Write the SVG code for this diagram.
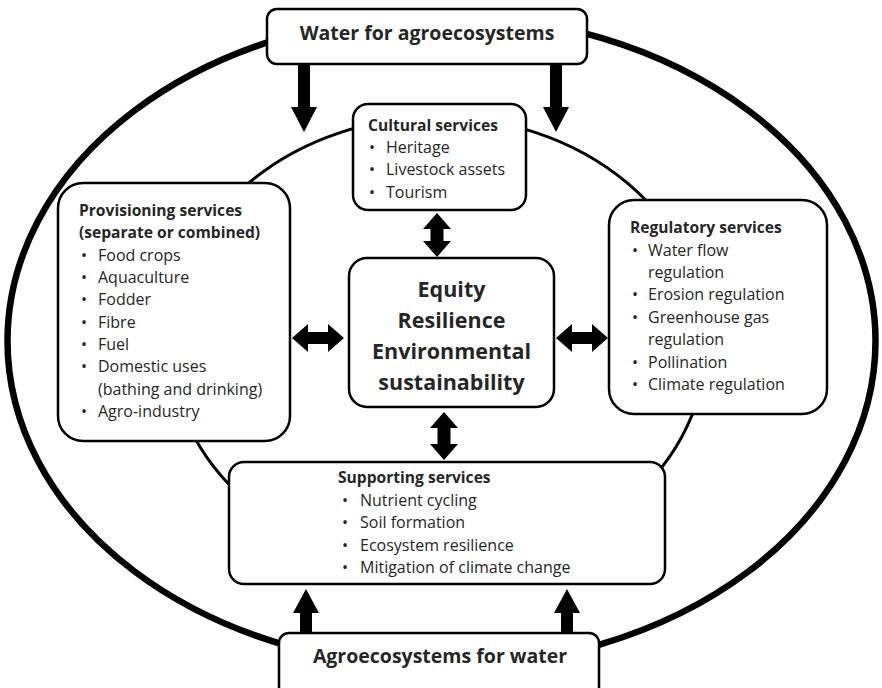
<svg xmlns="http://www.w3.org/2000/svg" width="882" height="688" viewBox="0 0 882 688">
<style>
.box{fill:#fff;stroke:#000;stroke-width:2.5}
.t{font-family:"Open Sans","Liberation Sans",sans-serif;font-size:16px;fill:#262626}
.h{font-family:"Open Sans","Liberation Sans",sans-serif;font-size:15.6px;font-weight:bold;fill:#262626}
.big{font-family:"Open Sans","Liberation Sans",sans-serif;font-size:19.5px;font-weight:bold;fill:#262626;text-anchor:middle}
.ctr{font-family:"Open Sans","Liberation Sans",sans-serif;font-size:21.5px;font-weight:bold;fill:#262626;text-anchor:middle}
.arr{fill:#000}
</style>
<rect width="882" height="688" fill="#fff"/>
<g id="outer-ring"><ellipse cx="441.5" cy="341" rx="434" ry="326" fill="none" stroke="#000" stroke-width="6.5"/></g>
<g id="inner-ring"><ellipse cx="438" cy="343" rx="268" ry="226" fill="none" stroke="#000" stroke-width="3"/></g>
<g id="connectors">
<polygon class="arr" points="298,64 310,64 310,107 317,107 304,132 291,107 298,107"/>
<polygon class="arr" points="550,64 562,64 562,107 569,107 556,132 543,107 550,107"/>
<polygon class="arr" points="300,633 312,633 312,613 319,613 306,589 293,613 300,613"/>
<polygon class="arr" points="561,633 573,633 573,613 580,613 567,589 554,613 561,613"/>
<polygon class="arr" points="437,213 451,229 443.5,229 443.5,241 451,241 437,257 423,241 430.5,241 430.5,229 423,229"/>
<polygon class="arr" points="444,412 458,428 450.5,428 450.5,444 458,444 444,460 430,444 437.5,444 437.5,428 430,428"/>
<polygon class="arr" points="292,338 308,324 308,332 328,332 328,324 344,338 328,352 328,344 308,344 308,352"/>
<polygon class="arr" points="556,338 572,324 572,332 592,332 592,324 608,338 592,352 592,344 572,344 572,352"/>
</g>
<g id="water-for-agroecosystems">
<rect class="box" x="267" y="9" width="320" height="55" rx="10"/>
<text class="big" x="427" y="40">Water for agroecosystems</text>
</g>
<g id="cultural-services">
<rect class="box" x="353" y="104" width="173" height="106" rx="15"/>
<text class="h" x="368" y="131">Cultural services</text>
<text class="t"><tspan x="369" y="153">•</tspan><tspan x="386" y="153">Heritage</tspan><tspan x="369" y="175">•</tspan><tspan x="386" y="175">Livestock assets</tspan><tspan x="369" y="198">•</tspan><tspan x="386" y="198">Tourism</tspan></text>
</g>
<g id="provisioning-services">
<rect class="box" x="58" y="183" width="232" height="258" rx="25"/>
<text class="h"><tspan x="79" y="216">Provisioning services</tspan><tspan x="79" y="238">(separate or combined)</tspan></text>
<text class="t">
<tspan x="81" y="261">•</tspan><tspan x="98" y="261">Food crops</tspan>
<tspan x="81" y="283">•</tspan><tspan x="98" y="283">Aquaculture</tspan>
<tspan x="81" y="305">•</tspan><tspan x="98" y="305">Fodder</tspan>
<tspan x="81" y="328">•</tspan><tspan x="98" y="328">Fibre</tspan>
<tspan x="81" y="350">•</tspan><tspan x="98" y="350">Fuel</tspan>
<tspan x="81" y="372">•</tspan><tspan x="98" y="372">Domestic uses</tspan>
<tspan x="98" y="395">(bathing and drinking)</tspan>
<tspan x="81" y="417">•</tspan><tspan x="98" y="417">Agro-industry</tspan>
</text>
</g>
<g id="core-values">
<rect class="box" x="349" y="258" width="205" height="149" rx="18"/>
<text class="ctr"><tspan x="451.5" y="297">Equity</tspan><tspan x="451.5" y="328">Resilience</tspan><tspan x="451.5" y="359">Environmental</tspan><tspan x="451.5" y="390">sustainability</tspan></text>
</g>
<g id="regulatory-services">
<rect class="box" x="609" y="200" width="218" height="214" rx="25"/>
<text class="h" x="630" y="233">Regulatory services</text>
<text class="t">
<tspan x="632" y="256">•</tspan><tspan x="648" y="256">Water flow</tspan>
<tspan x="648" y="278">regulation</tspan>
<tspan x="632" y="300">•</tspan><tspan x="648" y="300">Erosion regulation</tspan>
<tspan x="632" y="323">•</tspan><tspan x="648" y="323">Greenhouse gas</tspan>
<tspan x="648" y="345">regulation</tspan>
<tspan x="632" y="368">•</tspan><tspan x="648" y="368">Pollination</tspan>
<tspan x="632" y="390">•</tspan><tspan x="648" y="390">Climate regulation</tspan>
</text>
</g>
<g id="supporting-services">
<rect class="box" x="229" y="462" width="436" height="122" rx="15"/>
<text class="h" x="338" y="483">Supporting services</text>
<text class="t">
<tspan x="342" y="506">•</tspan><tspan x="360" y="506">Nutrient cycling</tspan>
<tspan x="342" y="528">•</tspan><tspan x="360" y="528">Soil formation</tspan>
<tspan x="342" y="551">•</tspan><tspan x="360" y="551">Ecosystem resilience</tspan>
<tspan x="342" y="573">•</tspan><tspan x="360" y="573">Mitigation of climate change</tspan>
</text>
</g>
<g id="agroecosystems-for-water">
<rect class="box" x="279" y="633" width="320" height="70" rx="10"/>
<text class="big" x="440" y="663">Agroecosystems for water</text>
</g>
</svg>
